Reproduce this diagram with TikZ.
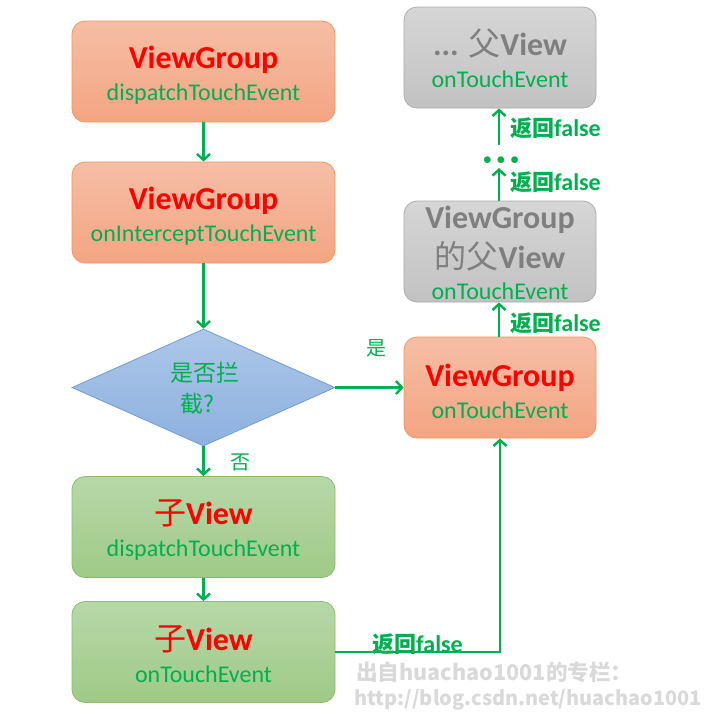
\documentclass[tikz,border=0pt]{standalone}
\usepackage{fontspec}
\setmainfont{Carlito}
\newfontfamily\cjk{Noto Sans CJK SC}
\usetikzlibrary{arrows.meta,shapes.geometric}
\definecolor{tgreen}{HTML}{00B050}
\definecolor{tred}{HTML}{FF0000}
\definecolor{tgray}{HTML}{7F7F7F}
\definecolor{wmark}{HTML}{D9D9D9}
\definecolor{orTop}{HTML}{F5BEA6}
\definecolor{orBot}{HTML}{F4A582}
\definecolor{orLine}{HTML}{F29660}
\definecolor{grTop}{HTML}{B7D8A9}
\definecolor{grBot}{HTML}{9FCA86}
\definecolor{grLine}{HTML}{8CBD6C}
\definecolor{gyTop}{HTML}{D6D6D6}
\definecolor{gyBot}{HTML}{C2C2C2}
\definecolor{gyLine}{HTML}{ABABAB}
\definecolor{blTop}{HTML}{ADC7E9}
\definecolor{blBot}{HTML}{8DB1DF}
\definecolor{blLine}{HTML}{6F9BD5}
\tikzset{
  x=1pt,y=-1pt,
  box/.style={rounded corners=13pt, inner sep=0pt, align=center, line width=0.8pt,
    font=\fontsize{24}{32}\selectfont},
  leftbox/.style={box, minimum width=263pt, minimum height=101pt},
  rightbox/.style={box, minimum width=192pt, minimum height=101pt},
  orangebox/.style={draw=orLine, top color=orTop, bottom color=orBot},
  greenbox/.style={draw=grLine, top color=grTop, bottom color=grBot},
  graybox/.style={draw=gyLine, top color=gyTop, bottom color=gyBot},
  flow/.style={draw=tgreen, line width=2.6pt, -{Straight Barb[length=6pt,width=13pt,line width=2.4pt]}},
  lbl/.style={text=tgreen, font=\fontsize{24}{24}\selectfont\bfseries, inner sep=0pt},
  cjklbl/.style={text=tgreen, font=\cjk\fontsize{20}{22}\selectfont, inner sep=0pt},
  wm/.style={text=wmark, anchor=west, inner sep=0pt},
}
\newcommand{\hd}[1]{{\fontsize{32}{32}\selectfont\bfseries\rule{0pt}{30pt}#1}}
\newcommand{\hdn}[1]{{\fontsize{32}{32}\selectfont\bfseries #1}}
\newcommand{\sub}[1]{{\color{tgreen}#1}}
\newcommand{\retf}{{\cjk\fontsize{22}{24}\selectfont 返回}false}
\begin{document}
\begin{tikzpicture}
\useasboundingbox (0,0) rectangle (717,716);
% left column
\node[leftbox, orangebox] (vgd) at (203.5,71.5)
  {\hd{\color{tred}ViewGroup}\\\sub{dispatchTouchEvent}};
\node[leftbox, orangebox] (vgi) at (203.5,212.5)
  {\hd{\color{tred}ViewGroup}\\\sub{onInterceptTouchEvent}};
\node[diamond, draw=blLine, line width=0.8pt, top color=blTop, bottom color=blBot,
      minimum width=263pt, minimum height=117pt, inner sep=0pt, aspect=2.25] (dec) at (203.5,387.5) {};
\node[text=tgreen, font=\cjk\fontsize{23}{31}\selectfont, align=left, inner sep=0pt] (dect) at (205,388)
  {是否拦\\\hspace*{10pt}截?};
\node[leftbox, greenbox] (cvd) at (203.5,527)
  {\hd{\color{tred}{\cjk\mdseries 子}View}\\\sub{dispatchTouchEvent}};
\node[leftbox, greenbox] (cvt) at (203.5,652)
  {\hd{\color{tred}{\cjk\mdseries 子}View}\\\sub{onTouchEvent}};
% right column
\node[rightbox, orangebox] (vgt) at (500,387.5)
  {\hd{\color{tred}ViewGroup}\\\sub{onTouchEvent}};
\node[rightbox, graybox] (pv) at (500,251.5) {};
\node[box, draw=none, fill=none, inner sep=0pt] (pvt) at (500,253)
  {\hdn{\color{tgray}ViewGroup}\\[7pt]\hdn{\color{tgray}{\cjk\mdseries 的父}View}\\[-1pt]\sub{onTouchEvent}};
\node[rightbox, graybox] (ppv) at (500,57.5)
  {{\fontsize{32}{32}\selectfont\bfseries\rule{0pt}{28pt}\color{tgray}... {\cjk\mdseries 父}View}\\\sub{onTouchEvent}};
% coordinates
\coordinate (d1) at (499,168);
\coordinate (d2) at (499,145);
\node[text=tgreen, font=\fontsize{16}{16}\selectfont, inner sep=0pt] (dots) at (501,161) {$\bullet$\hspace{5pt}$\bullet$\hspace{5pt}$\bullet$};
% connectors
\draw[flow] (vgd) -- (vgi);
\draw[flow] (vgi) -- (dec.north);
\draw[flow] (dec.south) -- (cvd);
\draw[flow] (cvd) -- (cvt);
\draw[flow] (dec.east) -- (vgt.west);
\draw[flow] (cvt.east) -| (vgt.south);
\draw[flow] (vgt.north -| 499,0) -- (pv.south -| 499,0);
\draw[flow] (pv.north -| 499,0) -- (d1);
\draw[flow] (d2) -- (ppv.south -| 499,0);
% labels
\node[cjklbl] (yes) at (376,348) {是};
\node[cjklbl] (no) at (240,462) {否};
\node[lbl, anchor=west] (r1) at (510,323) {\retf};
\node[lbl, anchor=west] (r2) at (510,182) {\retf};
\node[lbl, anchor=west] (r3) at (510,128) {\retf};
\node[lbl, anchor=west] (r4) at (372,644) {\retf};
% watermark
\node[wm, font=\cjk\bfseries\fontsize{21.6}{24}\selectfont] (wm1) at (356,672) {出自huachao1001的专栏：};
\node[wm, font=\cjk\bfseries\fontsize{19.9}{24}\selectfont] (wm2) at (354,700) {http://blog.csdn.net/huachao1001};
\end{tikzpicture}
\end{document}
